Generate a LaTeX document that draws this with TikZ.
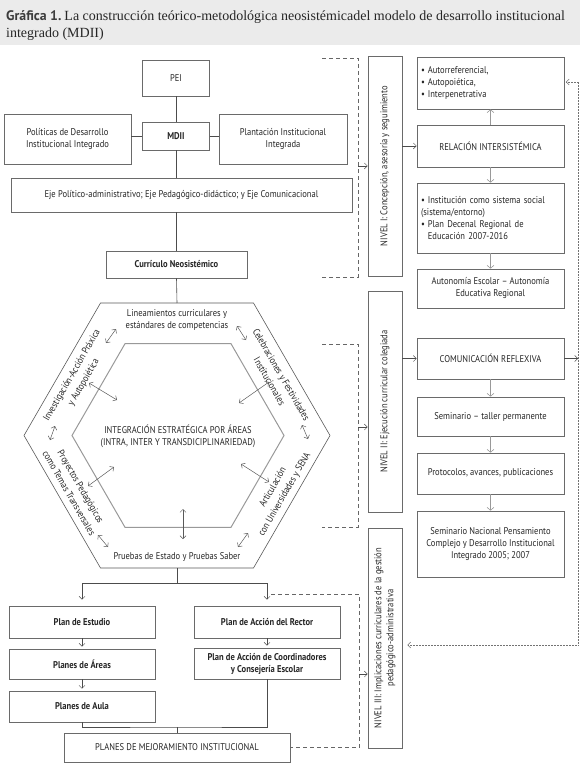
\documentclass[tikz,border=0pt]{standalone}
\usepackage{fontspec}
\setmainfont{PT Sans}[FakeStretch=0.87]
\newfontfamily\serifT{Liberation Serif}
\newfontfamily\sansT{PT Sans}
\usetikzlibrary{arrows.meta}
\definecolor{titlebg}{HTML}{EBEBEB}
\definecolor{titlegray}{HTML}{3C3C3C}
\definecolor{linegray}{HTML}{6A6A6A}
\begin{document}
\begin{tikzpicture}[x=1pt,y=-1pt,
  every node/.style={text=black!85, font=\fontsize{9.8}{12}\selectfont},
  box/.style={draw=linegray, line width=0.6pt, fill=white, inner sep=2pt, align=center},
  conn/.style={draw=black!70, line width=0.6pt},
  thinarrow/.style={draw=black!70, line width=0.5pt, -{Straight Barb[length=3pt,width=6pt]}},
  grayarrow/.style={draw=black!40, line width=1.4pt, -{Straight Barb[length=3pt,width=7pt,line width=0.6pt]}},
  dblarrow/.style={draw=black!65, line width=0.5pt, {Straight Barb[length=3pt,width=6pt]}-{Straight Barb[length=3pt,width=6pt]}},
  dashline/.style={draw=black!60, line width=0.6pt, dash pattern=on 4pt off 3pt},
  dotline/.style={draw=black!55, line width=0.5pt, densely dotted},
  hexlabel/.style={align=center, inner sep=0pt},
  rotlabel/.style={align=center, inner sep=0pt, font=\fontsize{9.8}{13.5}\selectfont}
]
\useasboundingbox (0,0) rectangle (580,767);
% title band
\fill[titlebg] (0,0) rectangle (580,45);
\node[anchor=base west, inner sep=0pt] (title1) at (6,21)
  {{\sansT\bfseries\fontsize{13.8}{15}\selectfont\color{titlegray}Gráfica 1.} {\serifT\fontsize{14}{15}\selectfont\color{black!85}La construcción teórico-metodológica neosistémicadel modelo de desarrollo institucional}};
\node[anchor=base west, inner sep=0pt] (title2) at (6,38)
  {\serifT\fontsize{14}{15}\selectfont\color{black!85}integrado (MDII)};

% ---------- upper left column ----------
\node[box, minimum width=67, minimum height=36] (pei) at (176,78) {PEI};
\node[box, minimum width=67, minimum height=28] (mdii) at (176,136) {\bfseries MDII};
\node[box, minimum width=127, minimum height=50] (pol) at (67.5,139) {Políticas de Desarrollo\\Institucional Integrado};
\node[box, minimum width=128, minimum height=50] (plan) at (283,139) {Plantación Institucional\\Integrada};
\node[box, minimum width=341, minimum height=34] (eje) at (181.5,195) {Eje Político-administrativo; Eje Pedagógico-didáctico; y Eje Comunicacional};
\node[box, minimum width=141, minimum height=27] (cur) at (176.5,264.5) {\bfseries Currículo Neosistémico};

\draw[conn] (pei.south) -- (mdii.north);
\draw[conn] (pol.east |- mdii.west) -- (mdii.west);
\draw[conn] (mdii.east) -- (plan.west |- mdii.east);
\draw[conn] (mdii.south) -- (mdii.south |- eje.north);
\draw[conn] (cur.north |- eje.south) -- (cur.north);

% ---------- hexagon ----------
\coordinate (hexTop) at (177,303);
\coordinate (hexBot) at (177,568);
\draw[draw=black!65, line width=0.6pt] (24,435.5) -- (100.5,303) -- (253.5,303) -- (330,435.5) -- (253.5,568) -- (100.5,568) -- cycle;
\draw[draw=black!40, line width=1pt] (72,435.5) -- (125,343.7) -- (231,343.7) -- (284,435.5) -- (231,527.3) -- (125,527.3) -- cycle;
\draw[conn] (cur.south) -- (hexTop);

\node[hexlabel] (hcen) at (178,436.5) {INTEGRACIÓN ESTRATÉGICA POR ÁREAS\\(INTRA, INTER Y TRANSDICIPLINARIEDAD)};
\node[hexlabel] (htop) at (177,320) {Lineamientos curriculares y\\estándares de competencias};
\node[hexlabel] (hbot) at (177,557) {Pruebas de Estado y Pruebas Saber};
\node[rotlabel, rotate=60] (hul) at (78,379) {Investigación-Acción Práxica\\y Autopoiética};
\node[rotlabel, rotate=-60] (hur) at (275.5,378) {Celebraciones y Festividades\\Institucionales};
\node[rotlabel, rotate=-60] (hll) at (75,490) {Proyectos Pedagógicos\\como Temas Transversales};
\node[rotlabel, rotate=60] (hlr) at (279,491) {Articulación\\con Universidades y SENA};

% small double arrows in the ring
\coordinate (a1s) at (106,343); \coordinate (a1e) at (116,329);
\coordinate (a2s) at (237,326); \coordinate (a2e) at (246,340);
\coordinate (a3s) at (50,440); \coordinate (a3e) at (55,426);
\coordinate (a4s) at (302,425); \coordinate (a4e) at (308,439);
\coordinate (a5s) at (98,535); \coordinate (a5e) at (108,547);
\coordinate (a6s) at (238,547); \coordinate (a6e) at (248,533);
\foreach \i in {1,...,6} {\draw[dblarrow] (a\i s) -- (a\i e);}
% inner double arrows
\coordinate (b1s) at (89,383); \coordinate (b1e) at (117,400);
\coordinate (b2s) at (239,403); \coordinate (b2e) at (269,382);
\coordinate (b3s) at (88,486); \coordinate (b3e) at (114,467);
\coordinate (b4s) at (241,464); \coordinate (b4e) at (269,482);
\coordinate (b5s) at (183,509); \coordinate (b5e) at (183,539);
\foreach \i in {1,...,5} {\draw[dblarrow] (b\i s) -- (b\i e);}

% ---------- bottom left ----------
\node[box, minimum width=146, minimum height=32] (estudio) at (82,622) {\bfseries Plan de Estudio};
\node[box, minimum width=146, minimum height=30] (areas) at (82,664) {\bfseries Planes de Áreas};
\node[box, minimum width=146, minimum height=31] (aula) at (82,706.5) {\bfseries Planes de Aula};
\node[box, minimum width=146, minimum height=32] (rector) at (267,622) {\bfseries Plan de Acción del Rector};
\node[box, minimum width=146, minimum height=31] (coord) at (267,663.5) {\bfseries Plan de Acción de Coordinadores\\\bfseries y Consejería Escolar};
\node[box, minimum width=226, minimum height=29] (mejor) at (177,747.5) {PLANES DE MEJORAMIENTO INSTITUCIONAL};

\coordinate (sp) at (177,583);
\draw[conn] (hexBot) -- (sp);
\draw[thinarrow, shorten >=6pt] (sp) -| (estudio.north);
\draw[thinarrow, shorten >=6pt] (sp) -| (rector.north);
\draw[thinarrow, shorten >=2pt] (estudio.south) -- (areas.north);
\draw[thinarrow, shorten >=2pt] (areas.south) -- (aula.north);
\draw[thinarrow, shorten >=2pt] (rector.south) -- (coord.north);
\coordinate (jn) at (177,727);
\draw[conn] (aula.south) |- (jn) -| (coord.south);
\draw[conn] (jn) -- (mejor.north);

% ---------- right column ----------
\node[box, rotate=90, minimum width=220, minimum height=34] (n1) at (385,166) {NIVEL I: Concepción, asesoría y seguimiento};
\node[box, rotate=90, minimum width=221, minimum height=34] (n2) at (385,401.5) {NIVEL II: Ejecución curricular colegiada};
\node[box, rotate=90, minimum width=220, minimum height=34, inner sep=1pt] (n3) at (385,638) {NIVEL III: Implicaciones curriculares de la gestión\\pedagógico-administrativa};

\node[box, minimum width=147, minimum height=52, text width=139, align=left, inner sep=4pt] (b1) at (490.5,83)
  {\textbullet\hspace{3pt}Autorreferencial,\\\textbullet\hspace{3pt}Autopoiética,\\\textbullet\hspace{3pt}Interpenetrativa};
\node[box, minimum width=147, minimum height=42] (rel) at (490.5,146) {RELACIÓN INTERSISTÉMICA};
\node[box, minimum width=147, minimum height=70, text width=139, align=left, inner sep=4pt] (inst) at (490.5,218)
  {\textbullet\hspace{3pt}Institución como sistema social\\(sistema/entorno)\\\textbullet\hspace{3pt}Plan Decenal Regional de\\\hphantom{\textbullet\hspace{3pt}}Educación 2007-2016};
\node[box, minimum width=147, minimum height=39] (auto) at (490.5,288.5) {Autonomía Escolar – Autonomía\\Educativa Regional};
\node[box, minimum width=147, minimum height=41] (com) at (490.5,358.5) {COMUNICACIÓN REFLEXIVA};
\node[box, minimum width=147, minimum height=39] (sem) at (490.5,416.5) {Seminario – taller permanente};
\node[box, minimum width=147, minimum height=41] (prot) at (490.5,473.5) {Protocolos, avances, publicaciones};
\node[box, minimum width=147, minimum height=66] (nac) at (490.5,544) {Seminario Nacional Pensamiento\\Complejo y Desarrollo Institucional\\Integrado 2005; 2007};

\draw[grayarrow] (rel.north) -- (b1.south);
\draw[grayarrow] (rel.south) -- (inst.north);
\draw[grayarrow] (inst.south) -- (auto.north);
\draw[grayarrow] (com.south) -- (sem.north);
\draw[grayarrow] (sem.south) -- (prot.north);
\draw[grayarrow] (prot.south) -- (nac.north);

\draw[thinarrow] (n1.south |- rel.west) -- (rel.west);
\draw[thinarrow] (n2.south |- com.west) -- (com.west);

% dotted feedback
\coordinate (dtop) at (578,82);
\coordinate (dbot) at (578,645);
\coordinate (dcom) at (578,358.5);
\draw[thinarrow] (com.east) -- (dcom);
\draw[dotline, -{Straight Barb[length=3pt,width=6pt]}] (dbot) -- (dtop) -- ([xshift=1.5pt]b1.east |- dtop);
\draw[dotline, -{Straight Barb[length=3pt,width=6pt]}, shorten >=5pt] (dbot) -- (n3.south |- dbot);

% dashed brackets
\coordinate (k1a) at (322,58); \coordinate (k1b) at (358,58);
\coordinate (k1c) at (358,277); \coordinate (k1d) at (322,277);
\coordinate (k1m) at (358,166);
\draw[dashline] (k1a) -- (k1b) -- (k1c) -- (k1d);
\draw[thinarrow] (k1m) -- (n1.north |- k1m);

\coordinate (k2a) at (322,344); \coordinate (k2b) at (358,344);
\coordinate (k2c) at (358,527); \coordinate (k2d) at (322,527);
\coordinate (k2m) at (358,427);
\draw[dashline] (k2a) -- (k2b) -- (k2c) -- (k2d);
\draw[thinarrow] (k2m) -- (n2.north |- k2m);

\coordinate (k3a) at (271,594); \coordinate (k3b) at (359,594);
\coordinate (k3c) at (359,747.5);
\coordinate (k3m) at (359,674);
\draw[dashline] (k3a) -- (k3b) -- (k3c) -- (mejor.east);
\draw[thinarrow] (k3m) -- (n3.north |- k3m);
\end{tikzpicture}
\end{document}
